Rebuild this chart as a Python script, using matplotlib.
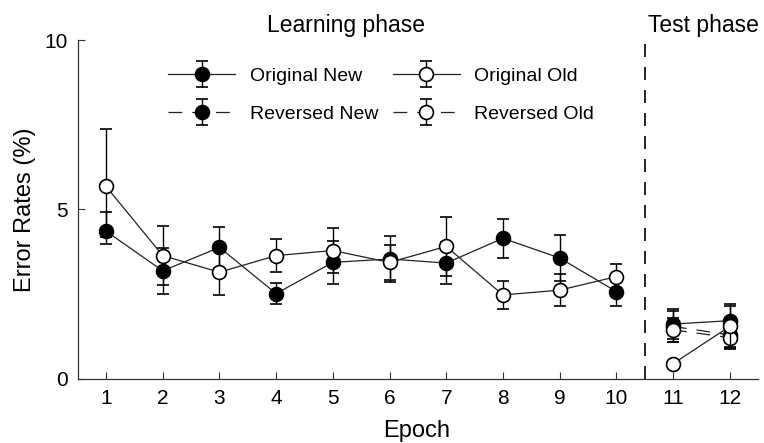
import matplotlib
matplotlib.use("Agg")
import matplotlib.pyplot as plt
from matplotlib.legend_handler import HandlerErrorbar
from matplotlib.container import ErrorbarContainer

plt.rcParams['font.family'] = ['Liberation Sans', 'DejaVu Sans']

# learning phase (epochs 1-10)
learn_epochs = [1, 2, 3, 4, 5, 6, 7, 8, 9, 10]
learn_new = [4.36, 3.19, 3.88, 2.52, 3.44, 3.54, 3.42, 4.15, 3.57, 2.58]
learn_new_lo = [0.16, 0.67, 0.60, 0.31, 0.63, 0.69, 0.62, 0.57, 0.68, 0.42]
learn_new_hi = [0.58, 0.67, 0.60, 0.31, 0.63, 0.69, 0.62, 0.57, 0.68, 0.42]
learn_old = [5.68, 3.64, 3.15, 3.64, 3.79, 3.44, 3.91, 2.48, 2.62, 3.02]
learn_old_err = [1.70, 0.86, 0.67, 0.49, 0.66, 0.52, 0.86, 0.42, 0.47, 0.37]

# test phase (epochs 11-12)
test_epochs = [11, 12]
orig_new = [1.62, 1.72]
orig_new_err = [0.44, 0.50]
orig_old = [0.45, 1.55]
orig_old_err = [0.08, 0.60]
rev_new = [1.55, 1.30]
rev_new_err = [0.45, 0.42]
rev_old = [1.45, 1.22]
rev_old_err = [0.35, 0.30]

xticks = list(range(1, 13))
yticks = [0, 5, 10]

fig = plt.figure(figsize=(7.64, 4.43), dpi=100)
ax = fig.add_axes([0.1017, 0.1445, 0.8905, 0.7652])

line_col = '#222222'
common = dict(fmt='o', color=line_col, lw=0.9, ms=10, mew=1.2, mec='black',
              ecolor='black', elinewidth=1.0, capsize=4.5, capthick=1.0)
dash = (0, (11, 8))

# learning phase
ax.errorbar(learn_epochs, learn_new, yerr=[learn_new_lo, learn_new_hi],
            mfc='black', ls='-', zorder=3, **common)
ax.errorbar(learn_epochs, learn_old, yerr=learn_old_err,
            mfc='white', ls='-', zorder=4, **common)

# test phase
h_rn = ax.errorbar(test_epochs, rev_new, yerr=rev_new_err, mfc='black', ls=dash,
                   zorder=3, label='Reversed New', **common)
h_on = ax.errorbar(test_epochs, orig_new, yerr=orig_new_err, mfc='black', ls='-',
                   zorder=3.5, label='Original New', **common)
h_ro = ax.errorbar(test_epochs, rev_old, yerr=rev_old_err, mfc='white', ls=dash,
                   zorder=4, label='Reversed Old', **common)
h_oo = ax.errorbar(test_epochs, orig_old, yerr=orig_old_err, mfc='white', ls='-',
                   zorder=4.5, label='Original Old', **common)

ax.axvline(10.5, color='black', lw=1.2, ls=(0, (7.8, 6)), zorder=2)

ax.set_xlim(0.5, 12.5)
ax.set_ylim(0, 10)
ax.set_xticks(xticks)
ax.set_yticks(yticks)
ax.tick_params(direction='in', length=5, width=0.8, labelsize=15, pad=7,
               color='#333333')
for s in ['top', 'right']:
    ax.spines[s].set_visible(False)
for s in ['left', 'bottom']:
    ax.spines[s].set_color('#333333')
    ax.spines[s].set_linewidth(0.9)

leg = ax.legend([h_on, h_rn, h_oo, h_ro],
                ['Original New', 'Reversed New', 'Original Old', 'Reversed Old'],
                ncol=2, frameon=False, fontsize=14, loc='upper left',
                bbox_to_anchor=(168 / 764, 1 - 67 / 443), bbox_transform=fig.transFigure,
                borderpad=0, borderaxespad=0, handlelength=3.45, handletextpad=0.75,
                columnspacing=0.75, labelspacing=1.05,
                handler_map={ErrorbarContainer: HandlerErrorbar(yerr_size=0.67)})

fig.text(25 / 764, 0.5 * (0.1445 + 0.9097), 'Error Rates (%)', rotation=90,
         ha='center', va='center', fontsize=17)
fig.text(417 / 764, 1 / 443, 'Epoch', ha='center', va='bottom', fontsize=17)
fig.text(346 / 764, 1 - 32 / 443, 'Learning phase', ha='center', va='baseline', fontsize=16.5)
fig.text(703 / 764, 1 - 32 / 443, 'Test phase', ha='center', va='baseline', fontsize=16.5)

fig.savefig('out.png', dpi=100)
